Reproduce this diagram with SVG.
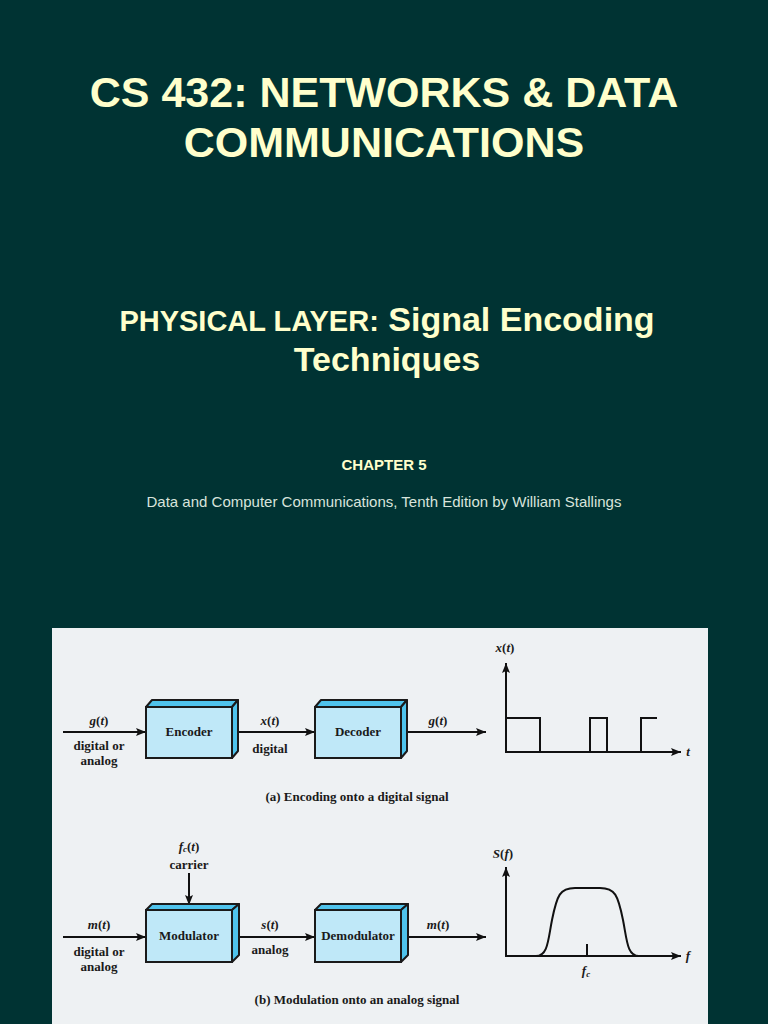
<svg xmlns="http://www.w3.org/2000/svg" width="768" height="1024" viewBox="0 0 768 1024">
<defs>
<style>
.t1{font-family:"Liberation Sans",Arial,sans-serif;font-weight:bold;fill:#ffffcc;text-anchor:middle}
.sub{font-family:"Liberation Sans",Arial,sans-serif;fill:#d8e4dc;font-size:15px;text-anchor:middle}
.d{font-family:"Liberation Serif","Times New Roman",serif;font-weight:bold;font-size:13px;fill:#1a1a1a;text-anchor:middle}
.i{font-style:italic}
.ln{stroke:#111;stroke-width:2;fill:none}
.front{fill:#bfe8f8;stroke:#1a1a1a;stroke-width:2}
.side{fill:#4fc3ec;stroke:#1a1a1a;stroke-width:2;stroke-linejoin:round}
</style>
<marker id="ah" markerWidth="10" markerHeight="8" refX="10" refY="4" orient="auto" markerUnits="userSpaceOnUse">
<path d="M0,0 L10,4 L0,8 L2,4 Z" fill="#111"/>
</marker>
</defs>
<rect width="768" height="1024" fill="#003333"/>
<text class="t1" x="384" y="107" font-size="43">CS 432: NETWORKS &amp; DATA</text>
<text class="t1" x="384" y="157" font-size="43">COMMUNICATIONS</text>
<text class="t1" x="387" y="331"><tspan font-size="29">PHYSICAL LAYER:</tspan><tspan font-size="34"> Signal Encoding</tspan></text>
<text class="t1" x="387" y="371" font-size="34">Techniques</text>
<text class="t1" x="384" y="470" font-size="15">CHAPTER 5</text>
<text class="sub" x="384" y="507">Data and Computer Communications, Tenth Edition by William Stallings</text>
<rect x="52" y="628" width="656" height="396" fill="#eef1f3"/>

<g id="connectors">
<line class="ln" x1="63" y1="732" x2="146" y2="732" marker-end="url(#ah)"/>
<line class="ln" x1="232" y1="732" x2="315" y2="732" marker-end="url(#ah)"/>
<line class="ln" x1="401" y1="732" x2="486" y2="732" marker-end="url(#ah)"/>
<line class="ln" x1="63" y1="937" x2="146" y2="937" marker-end="url(#ah)"/>
<line class="ln" x1="232" y1="937" x2="315" y2="937" marker-end="url(#ah)"/>
<line class="ln" x1="401" y1="937" x2="486" y2="937" marker-end="url(#ah)"/>
<line class="ln" x1="189" y1="873" x2="189" y2="905" marker-end="url(#ah)"/>
</g>

<g id="encoder">
<path class="side" d="M146,707 L152,700 L238,700 L232,707 Z"/>
<path class="side" d="M232,707 L238,700 L238,751 L232,758 Z"/>
<rect class="front" x="146" y="707" width="86" height="51"/>
<text class="d" x="189" y="736">Encoder</text>
</g>
<g id="decoder">
<path class="side" d="M315,707 L321,700 L407,700 L401,707 Z"/>
<path class="side" d="M401,707 L407,700 L407,751 L401,758 Z"/>
<rect class="front" x="315" y="707" width="86" height="51"/>
<text class="d" x="358" y="736">Decoder</text>
</g>
<g id="modulator">
<path class="side" d="M146,910 L152,904 L239,904 L232,910 Z"/>
<path class="side" d="M232,910 L239,904 L239,955 L232,962 Z"/>
<rect class="front" x="146" y="910" width="86" height="52"/>
<text class="d" x="189" y="940">Modulator</text>
</g>
<g id="demodulator">
<path class="side" d="M315,910 L321,904 L408,904 L401,910 Z"/>
<path class="side" d="M401,910 L408,904 L408,955 L401,962 Z"/>
<rect class="front" x="315" y="910" width="86" height="52"/>
<text class="d" x="358" y="940">Demodulator</text>
</g>

<g id="labels-a">
<text class="d" x="99" y="725"><tspan class="i">g</tspan>(<tspan class="i">t</tspan>)</text>
<text class="d" x="99" y="750">digital or</text>
<text class="d" x="99" y="765">analog</text>
<text class="d" x="270" y="725"><tspan class="i">x</tspan>(<tspan class="i">t</tspan>)</text>
<text class="d" x="270" y="753">digital</text>
<text class="d" x="438" y="725"><tspan class="i">g</tspan>(<tspan class="i">t</tspan>)</text>
<text class="d" x="357" y="801">(a) Encoding onto a digital signal</text>
</g>

<g id="graph-a">
<line class="ln" x1="506" y1="753" x2="506" y2="663" marker-end="url(#ah)"/>
<line class="ln" x1="505" y1="752" x2="681" y2="752" marker-end="url(#ah)"/>
<polyline class="ln" points="506,718 540,718 540,752 590,752 590,718 607,718 607,752 641,752 641,718 657,718"/>
<text class="d" x="505" y="652"><tspan class="i">x</tspan>(<tspan class="i">t</tspan>)</text>
<text class="d i" x="688" y="756">t</text>
</g>

<g id="labels-b">
<text class="d" x="189" y="851"><tspan class="i">f</tspan><tspan class="i" font-size="9" dy="1">c</tspan><tspan dy="-1">(</tspan><tspan class="i">t</tspan>)</text>
<text class="d" x="189" y="869">carrier</text>
<text class="d" x="99" y="929"><tspan class="i">m</tspan>(<tspan class="i">t</tspan>)</text>
<text class="d" x="99" y="956">digital or</text>
<text class="d" x="99" y="971">analog</text>
<text class="d" x="270" y="929"><tspan class="i">s</tspan>(<tspan class="i">t</tspan>)</text>
<text class="d" x="270" y="954">analog</text>
<text class="d" x="438" y="929"><tspan class="i">m</tspan>(<tspan class="i">t</tspan>)</text>
<text class="d" x="357" y="1004">(b) Modulation onto an analog signal</text>
</g>

<g id="graph-b">
<line class="ln" x1="506" y1="957" x2="506" y2="867" marker-end="url(#ah)"/>
<line class="ln" x1="505" y1="956" x2="681" y2="956" marker-end="url(#ah)"/>
<path class="ln" d="M536,956 C548,956 548,940 552,920 C557,895 560,888 575,888 L600,888 C615,888 618,895 623,920 C627,940 627,956 639,956"/>
<line class="ln" x1="587" y1="944" x2="587" y2="956"/>
<text class="d" x="503" y="858"><tspan class="i">S</tspan>(<tspan class="i">f</tspan>)</text>
<text class="d i" x="688" y="960">f</text>
<text class="d" x="586" y="975"><tspan class="i">f</tspan><tspan class="i" font-size="9" dy="2">c</tspan></text>
</g>
</svg>
